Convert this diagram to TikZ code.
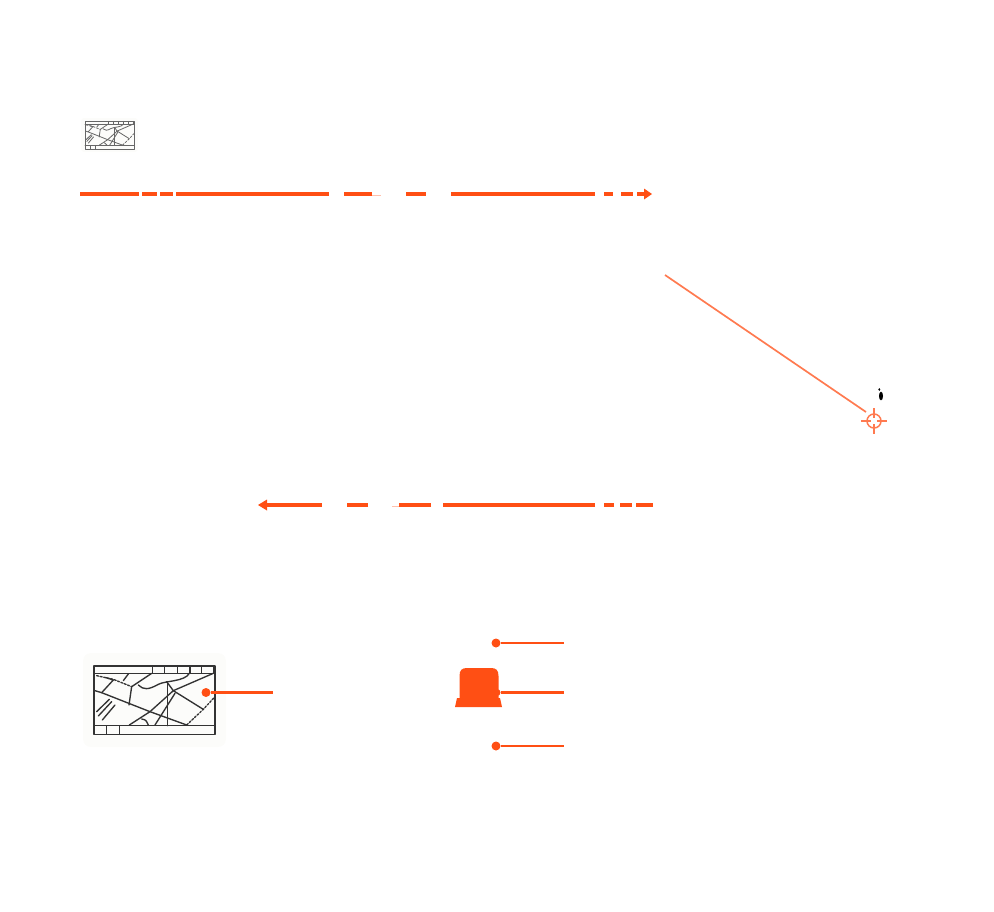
\documentclass[tikz,border=0pt]{standalone}
\definecolor{acc}{HTML}{FF4F14}
\definecolor{acclight}{HTML}{FF7A50}
\definecolor{halo}{HTML}{FCFCFA}
\tikzset{
  thick line/.style={draw=acc,line width=3.2pt},
  thin line/.style={draw=acc,line width=2.3pt},
  dotnode/.style={circle,fill=acc,inner sep=0pt,minimum size=9pt},
  headtip/.style={fill=acc,draw=none},
  faint/.style={draw=acc!35,line width=1.4pt},
  road/.style={line join=round,line cap=round},
  dashroad/.style={road,dash pattern=on 2pt off 1.6pt},
}
\newcommand{\mapdrawing}[6]{%
  \begin{scope}[shift={(#1,#2)},x=#3pt,y=-#4pt,draw=#6,line width=#5pt]
    \draw[road] (72,78) rectangle (435,283);
    \draw[road] (72,100) -- (435,100) (72,257) -- (435,257);
    \foreach \tx in {248,284,322,360,394,430} \draw (\tx,78) -- (\tx,100);
    \foreach \tx in {110,148} \draw (\tx,257) -- (\tx,283);
    \draw[road] (75,152) -- (95,158) -- (240,215) -- (350,255);
    \draw[road] (95,158) -- (130,120) -- (108,113);
    \draw[dashroad] (80,107) -- (130,118) -- (185,140);
    \draw[road] (160,122) -- (175,102);
    \draw[road] (245,100) -- (185,140) -- (177,195);
    \draw[road] (205,135) .. controls (220,150) and (235,150) .. (265,133) .. controls (285,122) and (345,125) .. (358,100);
    \draw[road] (290,125) -- (310,152);
    \draw[road] (293,125) -- (293,257);
    \draw[road] (310,152) -- (430,100);
    \draw[road] (310,152) -- (400,208);
    \draw[dashroad] (350,255) -- (400,208) -- (435,170);
    \draw[road] (310,152) -- (240,215) -- (178,255);
    \draw[road] (315,160) -- (255,255);
    \draw[road] (215,237) .. controls (228,240) .. (235,255);
    \draw[road] (80,215) -- (118,178) (85,228) -- (125,185) (97,240) -- (135,195);
  \end{scope}}
\begin{document}
\begin{tikzpicture}[x=1pt,y=-1pt]
\useasboundingbox (0,0) rectangle (994,911);
% small map
\fill[halo,rounded corners=3pt] (81,118) rectangle (138,152);
\mapdrawing{75.3}{110.3}{0.135}{0.1366}{0.8}{black!60}
% big map
\fill[halo,rounded corners=8pt] (83,653) rectangle (226,747);
\mapdrawing{70}{640}{0.3333}{0.3333}{1.35}{black!80}
% top arrow
\coordinate (t0) at (80,194); \coordinate (t1) at (139,194);
\coordinate (t2) at (142,194); \coordinate (t3) at (157,194);
\coordinate (t4) at (160,194); \coordinate (t5) at (173,194);
\coordinate (t6) at (176,194); \coordinate (t7) at (329,194);
\coordinate (t8) at (344,194); \coordinate (t9) at (372,194);
\coordinate (t10) at (406,194); \coordinate (t11) at (426,194);
\coordinate (t12) at (451,194); \coordinate (t13) at (595,194);
\coordinate (t14) at (604,194); \coordinate (t15) at (613,194);
\coordinate (t16) at (621,194); \coordinate (t17) at (633,194);
\coordinate (t18) at (637,194); \coordinate (t19) at (646,194);
\coordinate (t20) at (652,194);
\foreach \a/\b in {t0/t1,t2/t3,t4/t5,t6/t7,t8/t9,t10/t11,t12/t13,t14/t15,t16/t17,t18/t19}
  \draw[thick line] (\a) -- (\b);
\draw[faint] (372,195.5) -- (381,195.5);
\fill[headtip] (t20) -- (644,188.5) -- (644,199.5) -- cycle;
% bottom arrow
\coordinate (b0) at (653,505); \coordinate (b1) at (636,505);
\coordinate (b2) at (632,505); \coordinate (b3) at (620,505);
\coordinate (b4) at (614,505); \coordinate (b5) at (604,505);
\coordinate (b6) at (595,505); \coordinate (b7) at (443,505);
\coordinate (b8) at (431,505); \coordinate (b9) at (399,505);
\coordinate (b10) at (368,505); \coordinate (b11) at (347,505);
\coordinate (b12) at (322,505); \coordinate (b13) at (265,505);
\coordinate (b14) at (258,505);
\foreach \a/\b in {b0/b1,b2/b3,b4/b5,b6/b7,b8/b9,b10/b11,b12/b13}
  \draw[thick line] (\a) -- (\b);
\draw[faint] (399,506.2) -- (392,506.2);
\fill[headtip] (b14) -- (267,499.5) -- (267,510.5) -- cycle;
% leader to target
\coordinate (tgt) at (874,421);
\coordinate (ls) at (665,275);
\coordinate (le) at (866,412);
\draw[draw=acclight,line width=1.7pt] (ls) -- (le);
\draw[draw=acclight,line width=1.5pt] (tgt) circle (7);
\draw[draw=acclight,line width=1.5pt] (861,421) -- (871,421) (877,421) -- (887,421) (874,408) -- (874,418) (874,424) -- (874,434);
% black mark
\fill[black] (881,396) ellipse (2 and 4.4);
\fill[black] (879.3,389.5) ellipse (1 and 1.4);
% callouts
\node[dotnode] (d1) at (206,692.5) {};
\coordinate (e1) at (273,692.5);
\draw[thin line] (d1) -- (e1);
\node[dotnode] (d2) at (496,643) {};
\coordinate (e2) at (564,643);
\draw[thin line] (d2) -- (e2);
\node[dotnode] (d3) at (496,746) {};
\coordinate (e3) at (564,746);
\draw[thin line] (d3) -- (e3);
% building
\fill[acc] (459.5,698) -- (459.5,676) .. controls (459.5,670) and (462,668) .. (467,668)
  -- (491,668) .. controls (496,668) and (498.5,670) .. (498.5,676) -- (498.5,698)
  -- (500,698) -- (502,707) -- (455,707) -- (457,698) -- cycle;
\node[dotnode,minimum size=7pt] (d4) at (497,692.5) {};
\coordinate (e4) at (564,692.5);
\draw[thin line] (d4) -- (e4);
\end{tikzpicture}
\end{document}
